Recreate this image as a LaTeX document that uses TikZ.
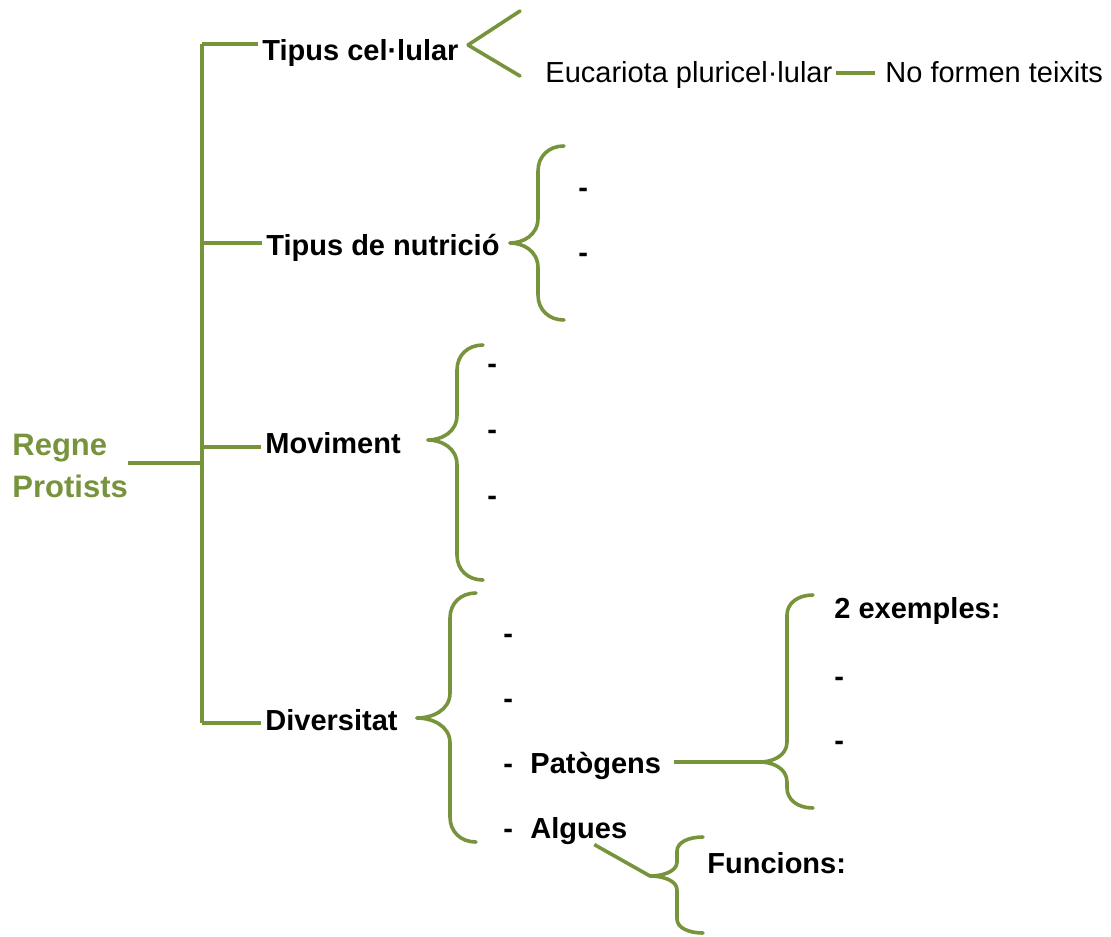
\documentclass[tikz,border=0pt]{standalone}
\usepackage{fontspec}
\setmainfont{Liberation Sans}
\usepackage{xcolor}
\usepackage{tikz}
\usetikzlibrary{positioning}

\definecolor{protgreen}{RGB}{119,147,60}

% curly bracket opening to the right: tip, offset to stem, reach up, reach down, bend
\newcommand{\claudator}[5]{%
  \draw[claudline] (#1) .. controls +({0.45*#2},0) and +(0,{0.7*#5}) .. ++(#2,-#5)
    -- ++(0,{2*#5-#3}) .. controls +(0,{-0.6*#5}) and +(-15,0) .. ++(26,-#5);
  \draw[claudline] (#1) .. controls +({0.45*#2},0) and +(0,{-0.7*#5}) .. ++(#2,#5)
    -- ++(0,{#4-2*#5}) .. controls +(0,{0.6*#5}) and +(-15,0) .. ++(26,#5);
}

\begin{document}
\begin{tikzpicture}[x=0.5pt, y=-0.5pt,
  conn/.style={draw=protgreen, line width=1.8pt},
  claudline/.style={draw=protgreen, line width=1.8pt, line cap=round, line join=round},
  lbl/.style={inner sep=0pt, anchor=base west, font=\fontsize{14.5}{17}\selectfont\bfseries},
  txt/.style={inner sep=0pt, anchor=base west, font=\fontsize{14.5}{17}\selectfont},
  title/.style={inner sep=0pt, anchor=west, align=left, text=protgreen, font=\fontsize{15.5}{21}\selectfont\bfseries}]
  \useasboundingbox (0,0) rectangle (1111,936);

  % root and trunk
  \node[title] (rp) at (12,466) {Regne\\Protists};
  \coordinate (trtop) at (202,44);
  \coordinate (trbot) at (202,723);
  \coordinate (rootj) at (202,463);
  \draw[conn] (trtop) -- (trbot);
  \draw[conn, shorten >=1pt] (rootj -| rp.east) -- (rootj);

  % four main branches
  \node[lbl] (tc)  at (262,60.5) {Tipus cel·lular};
  \node[lbl] (tn)  at (266,255)  {Tipus de nutrició};
  \node[lbl] (mov) at (265,453)  {Moviment};
  \node[lbl] (div) at (265,730)  {Diversitat};
  \foreach \n/\y in {tc/44, tn/243, mov/447, div/723} {
    \coordinate (br-\n) at (202,\y);
    \draw[conn, shorten >=2pt] (br-\n) -- (br-\n -| \n.west);
  }

  % cell type
  \coordinate (tcb) at (468,45);
  \draw[claudline] (tcb) -- ++(52,-34) (tcb) -- ++(52,31);
  \node[txt] (euc)  at (545,83) {Eucariota pluricel·lular};
  \node[txt] (noft) at (885,83) {No formen teixits};
  \coordinate (eucj) at (836,73);
  \draw[conn, shorten >=5pt] (eucj) -- (eucj -| noft.west);

  % nutrition
  \coordinate (tnb) at (510,243);
  \claudator{tnb}{28}{97}{77}{25}
  \node[lbl] (tn1) at (578,198) {-};
  \node[lbl] (tn2) at (578,262) {-};

  % movement
  \coordinate (movb) at (428,440);
  \claudator{movb}{29}{95}{140}{25}
  \node[lbl] (mov1) at (487,373) {-};
  \node[lbl] (mov2) at (487,439) {-};
  \node[lbl] (mov3) at (487,505) {-};

  % diversity
  \coordinate (divb) at (417,718);
  \claudator{divb}{33}{125}{124}{25}
  \node[lbl] (div1) at (503,643) {-};
  \node[lbl] (div2) at (503,708) {-};
  \node[lbl] (pat)  at (503,773) {-\hspace{0.6em}Patògens};
  \node[lbl] (alg)  at (503,838) {-\hspace{0.6em}Algues};

  % pathogens
  \coordinate (patb) at (760,762);
  \draw[conn, shorten <=6.5pt] (patb -| pat.east) -- (patb);
  \claudator{patb}{27}{167}{46}{20}
  \node[lbl] (ex)  at (834,618) {2 exemples:};
  \node[lbl] (ex1) at (834,686) {-};
  \node[lbl] (ex2) at (834,750) {-};

  % algae
  \coordinate (algb) at (650,876);
  \draw[conn] ([xshift=14.5pt]alg.south) -- (algb);
  \claudator{algb}{27}{39}{57}{14}
  \node[lbl] (fun) at (707,873) {Funcions:};
\end{tikzpicture}
\end{document}
